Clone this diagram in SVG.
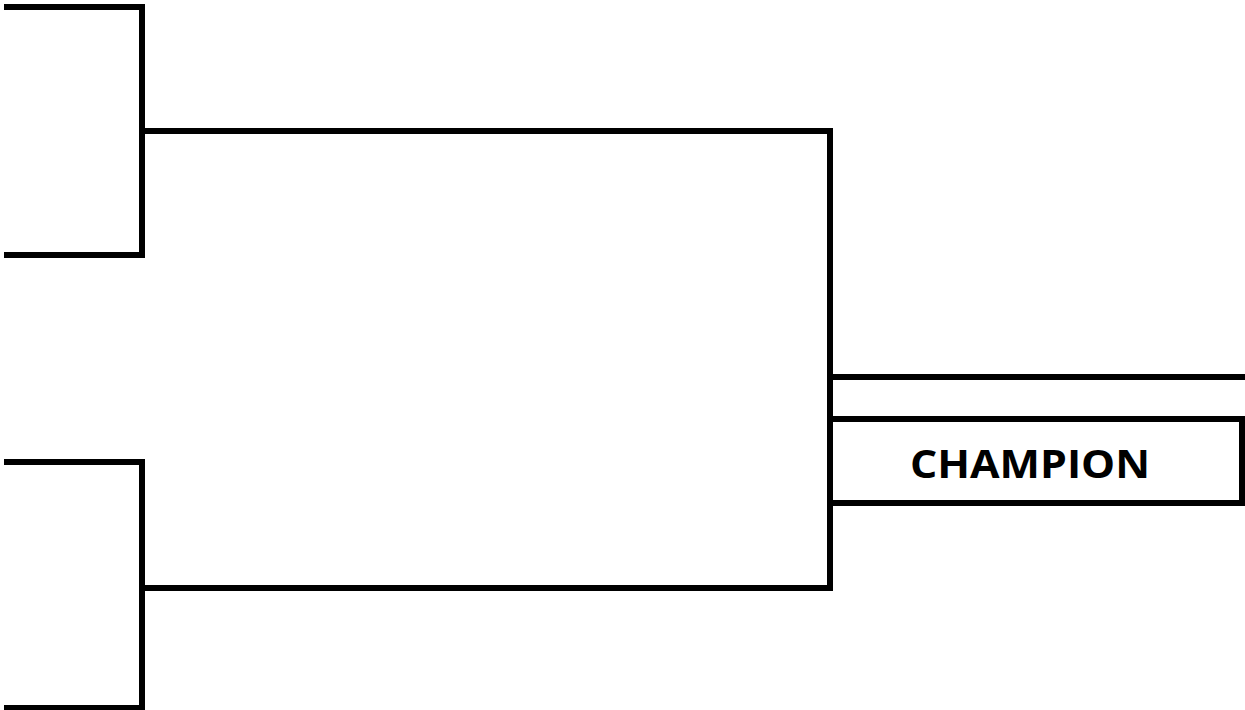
<svg xmlns="http://www.w3.org/2000/svg" width="1245" height="710" viewBox="0 0 1245 710">
<style>
.ln{fill:none;stroke:#000;stroke-width:6;stroke-linejoin:miter;stroke-linecap:butt}
.lbl{font-family:"Open Sans","Liberation Sans",sans-serif;font-weight:bold;font-size:40px;fill:#000}
</style>
<rect width="1245" height="710" fill="#fff"/>
<g id="connectors">
<polyline class="ln" points="4,7 142,7 142,255 4,255"/>
<polyline class="ln" points="4,462 142,462 142,708 4,708"/>
<polyline class="ln" points="142,131 830,131 830,588 142,588"/>
<line class="ln" x1="830" y1="377" x2="1245" y2="377"/>
</g>
<g id="champion">
<rect class="ln" x="830" y="419" width="412" height="84"/>
<text class="lbl" x="910" y="478" textLength="240" lengthAdjust="spacingAndGlyphs">CHAMPION</text>
</g>
</svg>
